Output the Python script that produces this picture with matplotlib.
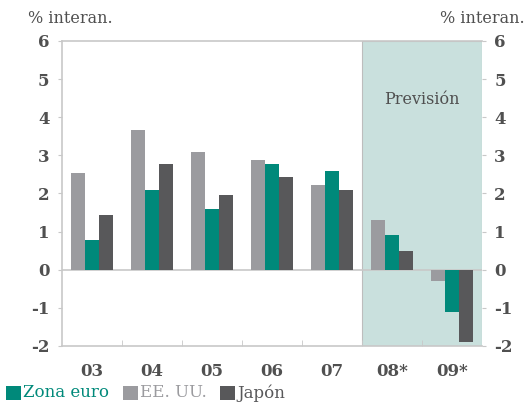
import matplotlib.pyplot as plt
import numpy as np
from matplotlib.patches import Rectangle

years = ['03', '04', '05', '06', '07', '08*', '09*']
eeuu = [2.53, 3.66, 3.08, 2.87, 2.21, 1.3, -0.3]
zona_euro = [0.79, 2.1, 1.6, 2.76, 2.6, 0.9, -1.1]
japon = [1.42, 2.76, 1.95, 2.42, 2.1, 0.5, -1.9]
yticks = [-2, -1, 0, 1, 2, 3, 4, 5, 6]

c_ze = '#00897a'
c_us = '#9b9b9f'
c_jp = '#58585a'
c_txt = '#505050'
c_axis = '#c8c8c8'

plt.rcParams['font.family'] = ['DejaVu Serif']

fig = plt.figure(figsize=(5.26, 4.05), dpi=100)
ax = fig.add_axes([0.118, 0.146, 0.798, 0.753])

x = np.arange(len(years))
w = 0.23

# zona de prevision
ax.add_patch(Rectangle((4.5, -2), 2, 8, facecolor='#c9e0dd', edgecolor='#bdbdbd',
                       linewidth=0.8, zorder=0))
ax.text(5.5, 4.45, 'Previsión', ha='center', va='center', fontsize=11.5, color=c_txt)

ax.bar(x - w, eeuu, w, color=c_us, zorder=2)
ax.bar(x, zona_euro, w, color=c_ze, zorder=2)
ax.bar(x + w, japon, w, color=c_jp, zorder=2)

ax.axhline(0, color=c_axis, linewidth=1.2, zorder=1)

ax.set_xlim(-0.5, 6.5)
ax.set_ylim(-2, 6)
ax.set_yticks(yticks)
ax.set_yticklabels([str(v) for v in yticks])
ax.set_xticks(x)
ax.set_xticklabels(years)
ax.set_xticks(np.arange(0.5, 6.5, 1), minor=True)

for s in ['left', 'bottom', 'top']:
    ax.spines[s].set_color(c_axis)
    ax.spines[s].set_linewidth(1.2)
ax.spines['right'].set_visible(False)

ax.tick_params(axis='x', which='major', length=0, pad=12, labelsize=12, labelcolor=c_txt)
ax.tick_params(axis='x', which='minor', direction='in', length=4, color=c_axis)
ax.tick_params(axis='y', which='major', direction='out', length=3, color=c_axis,
               labelsize=12, labelcolor=c_txt, pad=6, right=True, labelright=True)
for lab in ax.get_yticklabels() + ax.get_xticklabels():
    lab.set_fontweight('semibold')

fig.text(0.053, 0.955, '% interan.', fontsize=11.5, color=c_txt, ha='left', va='center')
fig.text(0.997, 0.955, '% interan.', fontsize=11.5, color=c_txt, ha='right', va='center')

# leyenda
items = [('Zona euro', c_ze, 0.011), ('EE. UU.', c_us, 0.234), ('Japón', c_jp, 0.418)]
for label, col, xp in items:
    fig.patches.append(Rectangle((xp, 0.012), 0.028, 0.034, transform=fig.transFigure,
                                 facecolor=col, edgecolor='none', figure=fig))
    fig.text(xp + 0.033, 0.03, label, fontsize=12, color=col, ha='left', va='center')

fig.savefig('out.png', dpi=100)
